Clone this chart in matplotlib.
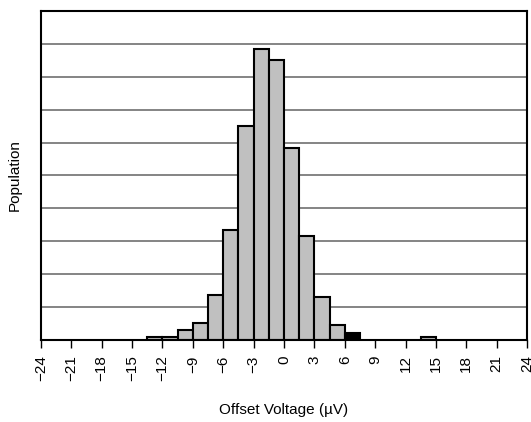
import numpy as np
import matplotlib
matplotlib.use('Agg')
import matplotlib.pyplot as plt

plt.rcParams.update({'font.family': ['Liberation Sans', 'DejaVu Sans'], 'font.size': 10})

# histogram bins (left edges, uV) and population counts, bin width 1.5 uV
bin_left = [-13.5, -12, -10.5, -9, -7.5, -6, -4.5, -3, -1.5, 0, 1.5, 3, 4.5, 6, 13.5]
counts = [5, 5, 15, 26, 68, 167, 325, 442, 425, 292, 158, 65, 23, 10, 5]
bin_width = 1.5
xticks = list(range(-24, 25, 3))

fig = plt.figure(figsize=(5.31, 4.22), dpi=100)
ax = fig.add_axes([0.0772, 0.1943, 0.9153, 0.7797])

colors = ['#c0c0c0'] * len(counts)
colors[bin_left.index(6)] = 'black'
ax.bar(bin_left, counts, width=bin_width, align='edge', color=colors,
       edgecolor='black', linewidth=1.5, zorder=3)

ax.set_xlim(-24, 24)
ax.set_ylim(0, 500)
ax.set_yticks(np.arange(0, 501, 50))
ax.yaxis.grid(True, color='#707070', linewidth=1.2, zorder=0)
ax.tick_params(axis='y', length=0, labelleft=False)
ax.set_xticks(xticks)
ax.set_xticklabels([str(t).replace('-', '\u2212') for t in xticks], rotation=90)
ax.tick_params(axis='x', direction='out', length=6, width=1, pad=5, labelsize=11)
for s in ax.spines.values():
    s.set_linewidth(1.5)
    s.set_zorder(4)

ax.set_xlabel('Offset Voltage (\u00b5V)', fontsize=11, labelpad=16)
ax.set_ylabel('Population', fontsize=11, labelpad=14)

plt.savefig('out.png', dpi=100)
